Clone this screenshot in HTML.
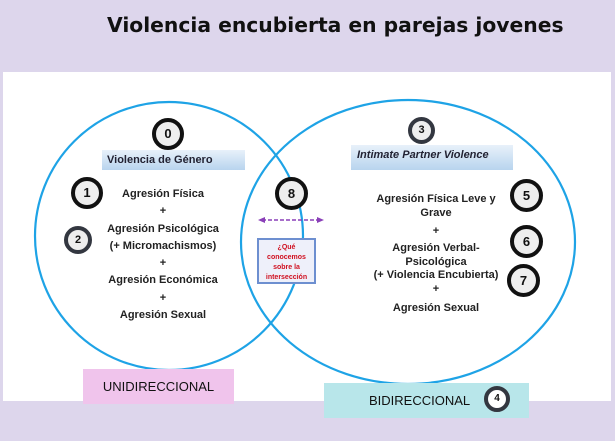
<!DOCTYPE html><html><head><meta charset="utf-8"><style>
body{margin:0;width:615px;height:441px;background:#ddd6ec;position:relative;overflow:hidden;font-family:"Liberation Sans",sans-serif}
.a{position:absolute}
.t{position:absolute;font-weight:bold;font-size:11px;color:#222;text-align:center;line-height:13px}
.n{position:absolute;border-radius:50%;border:4px solid #111;background:#eee;box-sizing:border-box;text-align:center;font-weight:bold;color:#111;font-size:13px}
</style></head><body>
<div class="a" style="left:107px;top:13px;font-size:20.3px;font-weight:bold;color:#111;font-family:'DejaVu Sans',sans-serif;white-space:nowrap">Violencia encubierta en parejas jovenes</div>
<div class="a" style="left:3px;top:72px;width:608px;height:329px;background:#fff"></div>
<svg class="a" style="left:0;top:0" width="615" height="441">
<ellipse cx="169" cy="236" rx="134" ry="134" fill="none" stroke="#1ea3e6" stroke-width="2.2"/>
<ellipse cx="408" cy="242" rx="167" ry="142" fill="none" stroke="#1ea3e6" stroke-width="2.2"/>
<line x1="262" y1="220" x2="320" y2="220" stroke="#8a3fb8" stroke-width="1.5" stroke-dasharray="4,2"/>
<polygon points="258,220 265,217 265,223" fill="#8a3fb8"/><polygon points="324,220 317,217 317,223" fill="#8a3fb8"/>
</svg>
<div class="a" style="left:102px;top:150px;width:143px;height:20px;background:linear-gradient(#e8f1fa,#b8d4ee);font-size:11px;font-weight:bold;line-height:20px;color:#223;text-indent:5px">Violencia de Género</div>
<div class="a" style="left:351px;top:145px;width:162px;height:25px;background:linear-gradient(#e8f1fa,#b8d4ee);font-size:11px;font-weight:bold;font-style:italic;line-height:20px;color:#223;text-indent:6px">Intimate Partner Violence</div>
<div class="a" style="left:257px;top:238px;width:59px;height:46px;border:2px solid #6d8fd0;background:#eef0fa;box-sizing:border-box;color:#d01020;font-size:7px;font-weight:bold;text-align:center;line-height:10px;padding-top:3px">¿Qué<br>conocemos<br>sobre la<br>intersección</div>
<div class="t" style="left:83px;top:186px;width:160px;line-height:17.3px">Agresión Física<br>+<br>Agresión Psicológica<br>(+ Micromachismos)<br>+<br>Agresión Económica<br>+<br>Agresión Sexual</div>
<div class="t" style="left:356px;top:193px;width:160px;line-height:13.5px">Agresión Física Leve y<br>Grave<br><span style="line-height:22px">+</span><br>Agresión Verbal-<br>Psicológica<br>(+ Violencia Encubierta)<br>+<br><span style="line-height:24px">Agresión Sexual</span></div>
<div class="n" style="left:152px;top:118px;width:32px;height:32px;line-height:24px">0</div>
<div class="n" style="left:71px;top:177px;width:32px;height:32px;line-height:24px">1</div>
<div class="n" style="left:64px;top:226px;width:28px;height:28px;line-height:20px;border-color:#333740;font-size:11px">2</div>
<div class="n" style="left:275px;top:177px;width:33px;height:33px;line-height:25px">8</div>
<div class="n" style="left:408px;top:117px;width:27px;height:27px;line-height:19px;border-color:#333740;font-size:11px">3</div>
<div class="n" style="left:510px;top:179px;width:33px;height:33px;line-height:25px">5</div>
<div class="n" style="left:510px;top:225px;width:33px;height:33px;line-height:25px">6</div>
<div class="n" style="left:507px;top:264px;width:33px;height:33px;line-height:25px">7</div>
<div class="a" style="left:83px;top:369px;width:151px;height:35px;background:#f0c4ec;font-size:13px;line-height:35px;text-align:center;color:#111">UNIDIRECCIONAL</div>
<div class="a" style="left:324px;top:383px;width:205px;height:35px;background:#b8e6ea;font-size:13px;line-height:35px;color:#111"><span style="margin-left:45px">BIDIRECCIONAL</span></div>
<div class="n" style="left:484px;top:386px;width:26px;height:26px;line-height:18px;border-color:#333740;background:#fff;font-size:10px">4</div>
</body></html>
